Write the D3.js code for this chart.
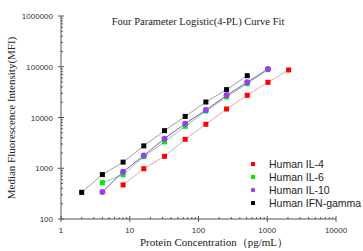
<!DOCTYPE html>
<html>
<head>
<meta charset="utf-8">
<script src="https://cdn.jsdelivr.net/npm/d3@7"></script>
<style>
  body { margin: 0; background: #fff; }
  svg { display: block; }
</style>
</head>
<body>
<svg id="chart" width="363" height="251"></svg>
<script>
// concentrations (pg/mL) per analyte
const concIL4 = [8, 16, 32, 64, 128, 256, 512, 1024, 2048];
const concIL6 = [4, 8, 16, 32, 64, 128, 256, 512, 1024];
const concIL10 = [4, 8, 16, 32, 64, 128, 256, 512, 1024];
const concIFN = [2, 4, 8, 16, 32, 64, 128, 256, 512];

// median fluorescence intensity
const mfiIL4 = [470, 980, 1720, 3720, 7350, 14700, 27400, 49400, 86500];
const mfiIL6 = [520, 750, 1690, 3300, 6700, 13400, 25400, 46500, 87500];
const mfiIL10 = [340, 855, 1780, 3820, 7550, 14050, 27400, 49500, 90500];
const mfiIFN = [335, 750, 1320, 2760, 5500, 10500, 20200, 35400, 66700];

const xTicks = [1, 10, 100, 1000, 10000];
const yTicks = [100, 1000, 10000, 100000, 1000000];

const series = [
  { name: "Human IL-4", x: concIL4, y: mfiIL4, color: "#ff0000", line: "#e8a3ab", shape: "square" },
  { name: "Human IL-6", x: concIL6, y: mfiIL6, color: "#00ee00", line: "#7ad67a", shape: "square" },
  { name: "Human IL-10", x: concIL10, y: mfiIL10, color: "#9a3cf5", line: "#8650e8", shape: "circle" },
  { name: "Human IFN-gamma", x: concIFN, y: mfiIFN, color: "#000000", line: "#a0a0a0", shape: "square" }
];

const svg = d3.select("#chart");
const axisColor = "#555";

const x = d3.scaleLog().domain([1, 10000]).range([61, 336]);
const y = d3.scaleLog().domain([100, 1000000]).range([219, 16]);

// minor ticks inside, major ticks crossing
function minors(scale) {
  const out = [];
  const [a, b] = scale.domain();
  for (let d = a; d < b; d *= 10) {
    for (let k = 2; k <= 9; k++) out.push(d * k);
  }
  return out;
}

const gx = svg.append("g");
gx.append("line")
  .attr("x1", x(1)).attr("x2", x(10000))
  .attr("y1", y(100)).attr("y2", y(100))
  .attr("stroke", axisColor);
gx.selectAll(".minor").data(minors(x)).join("line")
  .attr("x1", d => x(d)).attr("x2", d => x(d))
  .attr("y1", y(100)).attr("y2", y(100) - 2)
  .attr("stroke", axisColor);
gx.selectAll(".major").data(xTicks).join("line")
  .attr("x1", d => x(d)).attr("x2", d => x(d))
  .attr("y1", y(100) - 3).attr("y2", y(100) + 3)
  .attr("stroke", axisColor);
gx.selectAll("text").data(xTicks).join("text")
  .attr("x", d => x(d)).attr("y", 233)
  .attr("text-anchor", "middle")
  .attr("font-family", "Liberation Sans, Arial, sans-serif")
  .attr("font-size", 8).attr("fill", "#333")
  .text(d => d);

const gy = svg.append("g");
gy.append("line")
  .attr("x1", x(1)).attr("x2", x(1))
  .attr("y1", y(100)).attr("y2", y(1000000))
  .attr("stroke", axisColor);
gy.selectAll(".minor").data(minors(y)).join("line")
  .attr("x1", x(1)).attr("x2", x(1) + 2)
  .attr("y1", d => y(d)).attr("y2", d => y(d))
  .attr("stroke", axisColor);
gy.selectAll(".major").data(yTicks).join("line")
  .attr("x1", x(1) - 3).attr("x2", x(1) + 3)
  .attr("y1", d => y(d)).attr("y2", d => y(d))
  .attr("stroke", axisColor);
gy.selectAll("text").data(yTicks).join("text")
  .attr("x", 53).attr("y", d => y(d) + 3)
  .attr("text-anchor", "end")
  .attr("font-family", "Liberation Sans, Arial, sans-serif")
  .attr("font-size", 8).attr("fill", "#333")
  .text(d => d);

// fitted lines then markers
const line = d3.line().x(d => x(d[0])).y(d => y(d[1]));
series.forEach(s => {
  const pts = s.x.map((c, i) => [c, s.y[i]]);
  svg.append("path").datum(pts)
    .attr("d", line)
    .attr("fill", "none")
    .attr("stroke", s.line)
    .attr("stroke-width", 1);
});

series.forEach(s => {
  const pts = s.x.map((c, i) => [c, s.y[i]]);
  const g = svg.append("g");
  if (s.shape === "circle") {
    g.selectAll("circle").data(pts).join("circle")
      .attr("cx", d => x(d[0])).attr("cy", d => y(d[1]))
      .attr("r", 3).attr("fill", s.color);
  } else {
    g.selectAll("rect").data(pts).join("rect")
      .attr("x", d => x(d[0]) - 2.5).attr("y", d => y(d[1]) - 2.5)
      .attr("width", 5).attr("height", 5).attr("fill", s.color);
  }
});

// legend
const legend = svg.append("g");
series.forEach((s, i) => {
  const ly = 164 + i * 13;
  if (s.shape === "circle") {
    legend.append("circle").attr("cx", 253).attr("cy", ly).attr("r", 2.2).attr("fill", s.color);
  } else {
    legend.append("rect").attr("x", 251).attr("y", ly - 2).attr("width", 4).attr("height", 4).attr("fill", s.color);
  }
  legend.append("text")
    .attr("x", 269).attr("y", ly + 3.5)
    .attr("font-family", "Liberation Sans, Arial, sans-serif")
    .attr("font-size", 10.5).attr("fill", "#222")
    .text(s.name);
});

// titles
svg.append("text")
  .attr("x", 198).attr("y", 25)
  .attr("text-anchor", "middle")
  .attr("font-family", "Liberation Serif, Times New Roman, serif")
  .attr("font-size", 10.5).attr("fill", "#222")
  .text("Four Parameter Logistic(4-PL) Curve Fit");

svg.append("text")
  .attr("transform", "translate(15,118) rotate(-90)")
  .attr("text-anchor", "middle")
  .attr("font-family", "Liberation Serif, Times New Roman, serif")
  .attr("font-size", 11).attr("fill", "#222")
  .text("Median Fluorescence Intensity(MFI)");

svg.append("text")
  .attr("x", 214).attr("y", 246)
  .attr("text-anchor", "middle")
  .attr("font-family", "Liberation Serif, Times New Roman, serif")
  .attr("font-size", 11).attr("fill", "#222")
  .text("Protein Concentration（pg/mL）");
</script>
</body>
</html>
